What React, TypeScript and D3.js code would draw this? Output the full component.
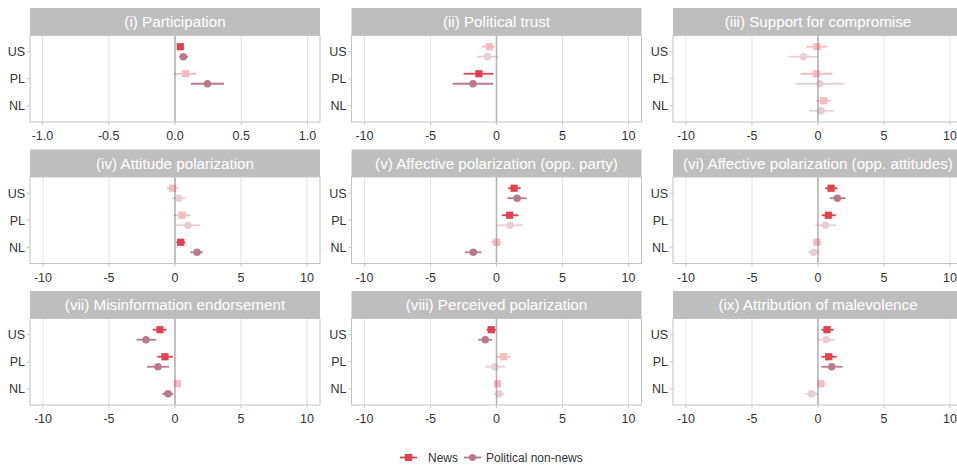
import React from "react";
import * as d3 from "d3";

const panelTitles = [
  "(i) Participation",
  "(ii) Political trust",
  "(iii) Support for compromise",
  "(iv) Attitude polarization",
  "(v) Affective polarization (opp. party)",
  "(vi) Affective polarization (opp. attitudes)",
  "(vii) Misinformation endorsement",
  "(viii) Perceived polarization",
  "(ix) Attribution of malevolence",
];
const countries = ["US", "PL", "NL"];
const seriesNames = ["News", "Political non-news"];
const ticksSmall = [-1.0, -0.5, 0.0, 0.5, 1.0];
const ticksLarge = [-10, -5, 0, 5, 10];
const domainSmall = 1.094;
const domainLarge = 10.98;

// News: estimate, lower, upper, significant (per panel, per country US/PL/NL)
const newsEst = [
  [0.04, 0.08, null], [-0.55, -1.33, null], [-0.08, -0.13, 0.43],
  [-0.18, 0.53, 0.43], [1.33, 1.0, 0.0], [0.99, 0.78, -0.08],
  [-1.14, -0.76, 0.18], [-0.4, 0.55, 0.08], [0.68, 0.81, 0.2],
];
const newsLo = [
  [0.02, -0.008, null], [-1.1, -2.49, null], [-0.89, -1.32, -0.13],
  [-0.6, -0.1, 0.1], [0.88, 0.4, -0.4], [0.53, 0.28, -0.38],
  [-1.69, -1.34, -0.08], [-0.75, 0.03, -0.2], [0.25, 0.25, -0.08],
];
const newsHi = [
  [0.06, 0.16, null], [-0.13, -0.23, null], [0.71, 1.09, 0.96],
  [0.23, 1.16, 0.78], [1.83, 1.66, 0.38], [1.47, 1.34, 0.25],
  [-0.66, -0.15, 0.43], [-0.05, 1.08, 0.35], [1.19, 1.42, 0.58],
];
const newsSig = [
  [true, false, false], [false, true, false], [false, false, false],
  [false, false, true], [true, true, false], [true, true, false],
  [true, true, false], [true, false, false], [true, true, false],
];

// Political non-news
const nonEst = [
  [0.063, 0.245, null], [-0.68, -1.78, null], [-1.09, 0.15, 0.25],
  [0.28, 0.98, 1.67], [1.56, 1.03, -1.76], [1.47, 0.56, -0.33],
  [-2.2, -1.29, -0.53], [-0.85, -0.13, 0.2], [0.63, 1.04, -0.48],
];
const nonLo = [
  [0.033, 0.12, null], [-1.48, -3.32, null], [-2.23, -1.7, -0.68],
  [-0.23, 0.08, 1.16], [0.83, 0.03, -2.39], [0.89, -0.2, -0.76],
  [-2.93, -2.12, -0.96], [-1.38, -0.88, -0.18], [0.0, 0.25, -0.96],
];
const nonHi = [
  [0.1, 0.37, null], [0.15, -0.25, null], [0.0, 2.03, 1.19],
  [0.83, 1.92, 2.1], [2.29, 1.98, -1.13], [2.1, 1.37, 0.1],
  [-1.44, -0.45, -0.13], [-0.33, 0.65, 0.58], [1.29, 1.87, 0.0],
];
const nonSig = [
  [true, true, false], [false, true, false], [false, false, false],
  [false, false, true], [true, false, true], [true, false, false],
  [true, true, true], [true, false, false], [false, true, false],
];

const colors = ["#e0424f", "#b97a8c"];
const fadedOpacity = 0.35;

const colLefts = [30, 351.5, 673];
const rowTops = [8, 149.5, 291];
const panelW = 290;
const stripH = 27.5;
const plotH = 86.5;
const dodge = 5;

const FONT = "'Liberation Sans', Arial, Helvetica, sans-serif";

function Panel({ idx }: { idx: number }) {
  const col = idx % 3;
  const row = Math.floor(idx / 3);
  const x0 = colLefts[col];
  const y0 = rowTops[row];
  const small = idx === 0;
  const dom = small ? domainSmall : domainLarge;
  const ticks = small ? ticksSmall : ticksLarge;
  const x = d3.scaleLinear().domain([-dom, dom]).range([0, panelW]);
  const y = d3.scalePoint<string>().domain(countries).range([0, plotH]).padding(0.6);

  const series = [
    { est: newsEst[idx], lo: newsLo[idx], hi: newsHi[idx], sig: newsSig[idx], off: -dodge, shape: "square" },
    { est: nonEst[idx], lo: nonLo[idx], hi: nonHi[idx], sig: nonSig[idx], off: dodge, shape: "circle" },
  ];

  return (
    <g transform={`translate(${x0},${y0})`}>
      <rect x={0} y={0} width={panelW} height={stripH} fill="#bebebe" />
      <text
        x={panelW / 2}
        y={stripH / 2}
        dy="0.36em"
        textAnchor="middle"
        fill="#ffffff"
        fontSize={15.2}
        fontFamily={FONT}
      >
        {panelTitles[idx]}
      </text>
      <g transform={`translate(0,${stripH})`}>
        <rect x={0} y={0} width={panelW} height={plotH} fill="#ffffff" />
        {ticks.map((t) => (
          <line key={"g" + t} x1={x(t)} x2={x(t)} y1={0} y2={plotH} stroke="#e3e3e3" strokeWidth={1} />
        ))}
        <line x1={x(0)} x2={x(0)} y1={0} y2={plotH} stroke="#b5b5b5" strokeWidth={1.6} />
        {series.map((s, si) =>
          countries.map((c, ci) => {
            const e = s.est[ci];
            if (e === null || e === undefined) return null;
            const cy = (y(c) as number) + s.off;
            const op = s.sig[ci] ? 1 : fadedOpacity;
            const col = colors[si];
            return (
              <g key={si + c} opacity={op}>
                <line x1={x(s.lo[ci] as number)} x2={x(s.hi[ci] as number)} y1={cy} y2={cy} stroke={col} strokeWidth={1.8} />
                {s.shape === "square" ? (
                  <rect x={x(e) - 3.6} y={cy - 3.6} width={7.2} height={7.2} fill={col} />
                ) : (
                  <circle cx={x(e)} cy={cy} r={3.8} fill={col} />
                )}
              </g>
            );
          })
        )}
        <rect x={0} y={0} width={panelW} height={plotH} fill="none" stroke="#c4c4c4" strokeWidth={1} />
        {countries.map((c) => (
          <g key={c}>
            <line x1={-3} x2={0} y1={y(c)} y2={y(c)} stroke="#c4c4c4" />
            <text x={-5} y={y(c)} dy="0.36em" textAnchor="end" fontSize={12.5} fill="#333333" fontFamily={FONT}>
              {c}
            </text>
          </g>
        ))}
        {ticks.map((t) => (
          <g key={"t" + t}>
            <line x1={x(t)} x2={x(t)} y1={plotH} y2={plotH + 3} stroke="#c4c4c4" />
            <text x={x(t)} y={plotH + 13.5} dy="0.36em" textAnchor="middle" fontSize={12.5} fill="#333333" fontFamily={FONT}>
              {small ? d3.format(".1f")(t).replace("−", "-") : String(t)}
            </text>
          </g>
        ))}
      </g>
    </g>
  );
}

const legendIconX = [400, 464];
const legendTextX = [428, 486];

export default function App() {
  return (
    <svg
      width={957}
      height={465}
      style={{ position: "absolute", left: 0, top: 0, background: "#ffffff" }}
    >
      <rect x={0} y={0} width={957} height={465} fill="#ffffff" />
      {panelTitles.map((_, i) => (
        <Panel key={i} idx={i} />
      ))}
      <g transform="translate(0,457.5)">
        {seriesNames.map((name, i) => {
          const lx = legendIconX[i];
          return (
            <g key={name}>
              <line x1={lx} x2={lx + 17} y1={0} y2={0} stroke={colors[i]} strokeWidth={1.8} />
              {i === 0 ? (
                <rect x={lx + 8.5 - 3.6} y={-3.6} width={7.2} height={7.2} fill={colors[i]} />
              ) : (
                <circle cx={lx + 8.5} cy={0} r={3.6} fill={colors[i]} />
              )}
              <text x={legendTextX[i]} y={0} dy="0.36em" fontSize={12} fill="#333333" fontFamily={FONT}>
                {name}
              </text>
            </g>
          );
        })}
      </g>
    </svg>
  );
}
